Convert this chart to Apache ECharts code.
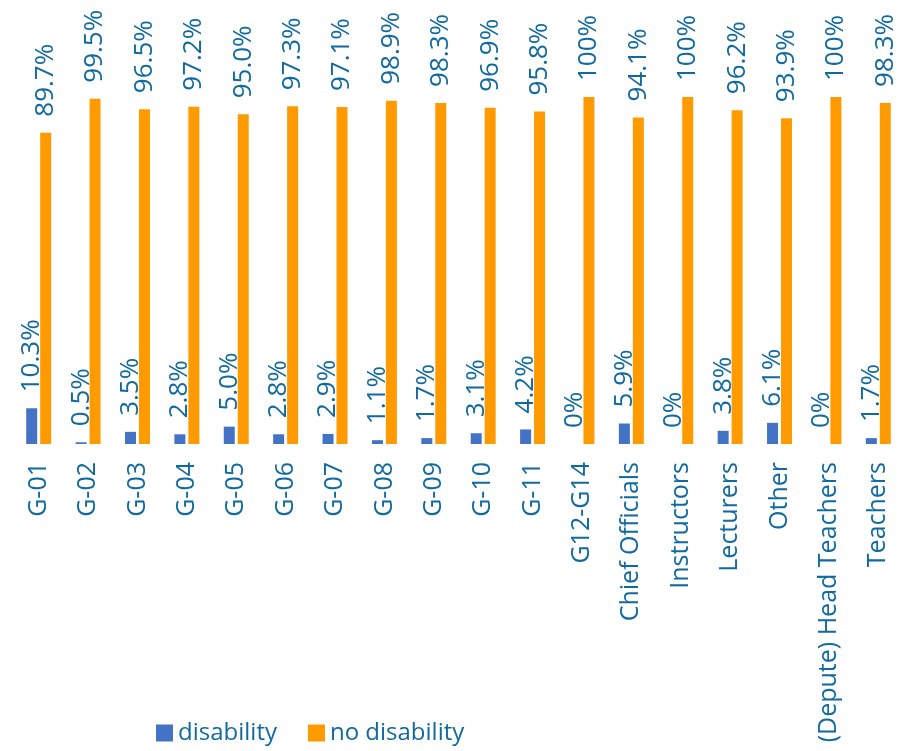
<!DOCTYPE html>
<html>
<head>
<meta charset="utf-8">
<script src="https://cdn.jsdelivr.net/npm/echarts@6/dist/echarts.min.js"></script>
<style>
  html, body { margin: 0; padding: 0; background: #fff; }
  #main { width: 909px; height: 751px; }
</style>
</head>
<body>
<div id="main"></div>
<script>
// categories (x axis)
var categories = ['G-01', 'G-02', 'G-03', 'G-04', 'G-05', 'G-06', 'G-07', 'G-08', 'G-09', 'G-10', 'G-11',
  'G12-G14', 'Chief Officials', 'Instructors', 'Lecturers', 'Other', '(Depute) Head Teachers', 'Teachers'];
// percentage values
var disability = [10.3, 0.5, 3.5, 2.8, 5.0, 2.8, 2.9, 1.1, 1.7, 3.1, 4.2, 0, 5.9, 0, 3.8, 6.1, 0, 1.7];
var noDisability = [89.7, 99.5, 96.5, 97.2, 95.0, 97.3, 97.1, 98.9, 98.3, 96.9, 95.8, 100, 94.1, 100, 96.2, 93.9, 100, 98.3];

var textColor = '#106AA0';
var font = '"Open Sans", "Noto Sans", sans-serif';

function pct (p) {
  var v = p.value;
  return (v === 0 || v === 100) ? v + '%' : v.toFixed(1) + '%';
}

var labelStyle = {
  show: true,
  position: 'top',
  rotate: 90,
  align: 'left',
  verticalAlign: 'middle',
  distance: 16,
  color: textColor,
  fontSize: 26,
  fontFamily: font,
  formatter: pct
};

var chart = echarts.init(document.getElementById('main'));
chart.setOption({
  animation: false,
  grid: { left: 14, right: 6, top: 97, bottom: 307 },
  legend: {
    left: 151,
    top: 716,
    itemWidth: 17,
    itemHeight: 17,
    itemGap: 31,
    icon: 'rect',
    textStyle: { color: textColor, fontSize: 24, fontFamily: font }
  },
  xAxis: {
    type: 'category',
    data: categories,
    axisLine: { show: false },
    axisTick: { show: false },
    axisLabel: {
      rotate: 90,
      interval: 0,
      margin: 18,
      color: textColor,
      fontSize: 25,
      fontFamily: font
    }
  },
  yAxis: {
    type: 'value',
    min: 0,
    max: 100,
    show: false
  },
  series: [{
    name: 'disability',
    type: 'bar',
    data: disability,
    barWidth: 11,
    barGap: '27%',
    itemStyle: { color: '#4472C4' },
    label: labelStyle
  }, {
    name: 'no disability',
    type: 'bar',
    data: noDisability,
    barWidth: 11,
    itemStyle: { color: '#FF9A00' },
    label: labelStyle
  }]
});
</script>
</body>
</html>
